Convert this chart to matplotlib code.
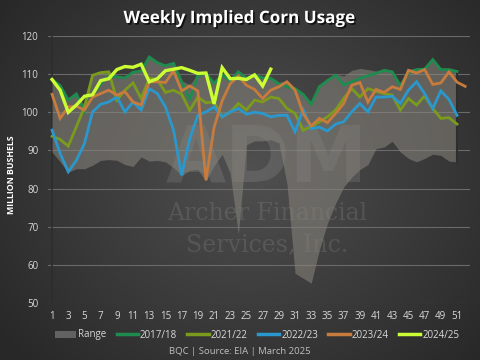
import numpy as np
import matplotlib
matplotlib.use("Agg")
import matplotlib.pyplot as plt
from matplotlib.patches import Patch
from matplotlib.lines import Line2D
import matplotlib.patheffects as pe

# ---------------- data ----------------
weeks51 = list(range(1, 52))
weeks52 = list(range(1, 53))
weeks28 = list(range(1, 29))

range_upper = [108.8, 107.2, 103.4, 105.0, 101.8, 110.0, 110.6, 110.8, 109.6, 109.3,
               110.8, 111.0, 114.7, 113.2, 112.4, 113.0, 108.3, 107.2, 110.0, 110.4,
               107.9, 110.0, 108.5, 110.8, 109.2, 110.0, 109.3, 109.2, 107.8, 108.3,
               106.5, 105.0, 102.4, 107.0, 108.6, 110.0, 109.5, 111.0, 111.5, 111.2,
               110.8, 111.3, 110.9, 107.3, 111.3, 111.5, 111.6, 114.0, 111.5, 111.5,
               111.0]
range_lower = [89.6, 87.0, 84.3, 85.2, 85.2, 86.1, 87.4, 87.6, 87.4, 86.3,
               85.8, 88.3, 87.2, 87.4, 87.0, 85.5, 83.4, 84.8, 85.0, 82.0,
               86.0, 89.0, 84.0, 68.0, 91.5, 92.5, 92.5, 92.8, 92.0, 81.3,
               57.8, 56.5, 55.2, 63.9, 70.9, 76.1, 80.4, 83.0, 85.0, 86.3,
               90.5, 90.9, 92.4, 89.6, 87.9, 87.0, 87.9, 89.0, 88.7, 87.2,
               87.0]

s2017 = [108.6, 107.0, 103.2, 104.8, 100.3, 104.5, 107.5, 109.5, 109.3, 109.0,
         110.5, 110.8, 114.5, 113.0, 112.2, 112.8, 108.0, 103.2, 109.7, 110.2,
         107.6, 109.8, 108.2, 110.6, 108.9, 109.7, 109.0, 108.9, 107.5, 106.7,
         106.2, 104.7, 102.1, 106.7, 108.3, 109.7, 107.2, 108.0, 108.9, 109.6,
         110.2, 111.0, 110.6, 107.0, 110.4, 111.2, 111.3, 113.8, 111.2, 111.2,
         110.7]
s2021 = [93.7, 92.9, 91.1, 96.2, 101.4, 109.7, 110.4, 110.6, 103.2, 105.8,
         107.7, 103.6, 108.9, 108.6, 105.2, 105.8, 104.7, 100.5, 104.0, 102.5,
         102.7, 98.8, 100.0, 102.3, 100.6, 103.2, 102.7, 104.0, 103.6, 101.0,
         99.7, 95.3, 96.2, 97.5, 98.8, 100.6, 103.6, 106.2, 104.0, 106.2,
         105.5, 104.9, 104.5, 100.6, 103.6, 101.9, 104.3, 101.0, 98.4, 98.6,
         96.9]
s2022 = [95.3, 89.2, 84.4, 87.4, 91.8, 100.1, 102.1, 102.7, 104.0, 100.1,
         102.7, 100.6, 106.2, 104.9, 101.4, 95.3, 83.5, 93.1, 99.2, 100.1,
         101.4, 98.8, 100.1, 101.0, 99.5, 100.0, 99.7, 98.8, 99.2, 99.2,
         94.9, 100.7, 95.7, 96.1, 95.1, 96.9, 97.5, 100.1, 102.3, 100.1,
         104.0, 104.0, 104.2, 102.3, 105.8, 108.0, 104.9, 101.0, 105.6, 103.4,
         99.2]
s2023 = [104.7, 98.4, 101.4, 101.6, 100.6, 104.0, 104.9, 105.8, 104.5, 105.4,
         102.7, 101.9, 108.0, 108.0, 107.8, 110.9, 105.6, 106.9, 105.6, 82.2,
         96.0, 103.0, 107.5, 109.5, 107.1, 106.0, 103.6, 105.8, 106.7, 108.0,
         105.8, 99.7, 96.4, 98.4, 97.3, 99.7, 102.3, 107.1, 107.8, 102.7,
         106.0, 105.2, 106.7, 106.0, 111.0, 110.3, 111.2, 107.3, 107.7, 110.6,
         107.9, 106.8]
s2024 = [108.6, 105.8, 100.0, 101.9, 104.2, 104.6, 108.3, 108.8, 111.2, 112.0,
         111.8, 112.6, 108.0, 108.8, 110.9, 111.3, 111.7, 111.0, 110.2, 110.3,
         102.2, 111.7, 108.8, 108.9, 108.6, 109.8, 106.9, 111.3]

x_ticks = list(range(1, 52, 2))
y_ticks = [50, 60, 70, 80, 90, 100, 110, 120]

series_names = ["2017/18", "2021/22", "2022/23", "2023/24", "2024/25"]
colors = ["#1e8c4e", "#7b9b1d", "#2a98cc", "#c77b3c", "#ccff33"]

# ---------------- figure ----------------
W, H = 480, 360
fig = plt.figure(figsize=(W / 100, H / 100), dpi=100)

# radial gradient background
bg = fig.add_axes([0, 0, 1, 1], zorder=-10)
yy, xx = np.mgrid[0:H, 0:W]
r = np.sqrt(((xx - 250) / 300.0) ** 2 + ((yy - 170) / 260.0) ** 2)
val = np.clip(80 - 38 * r, 40, 80) / 255.0
bg.imshow(np.dstack([val, val, val]), extent=[0, 1, 0, 1], aspect="auto",
          transform=bg.transAxes)
bg.set_axis_off()

ax = fig.add_axes([48 / W, 1 - 303 / H, (470 - 48) / W, (303 - 36) / H])
ax.patch.set_alpha(0)
ax.set_xlim(0.5, 52.6)
ax.set_ylim(50, 120)

for s in ax.spines.values():
    s.set_visible(False)

for yv in y_ticks:
    ax.axhline(yv, color="#6a6a6a", lw=0.8, zorder=1)
ax.axvline(1, color="#2d2d2d", lw=1.2, zorder=2)

# watermark
ax.text(27.5, 87.5, "ADM", fontsize=56, fontweight="bold", color="white",
        alpha=0.10, ha="center", va="center", family="DejaVu Sans", zorder=1.5)
ax.text(27.5, 73.5, "Archer Financial", fontsize=17, color="white", alpha=0.10,
        ha="center", va="center", family="DejaVu Serif", zorder=1.5)
ax.text(27.5, 65, "Services, Inc.", fontsize=17, color="white", alpha=0.10,
        ha="center", va="center", family="DejaVu Serif", zorder=1.5)

# range
ax.fill_between(weeks51, range_lower, range_upper, color="#8a867e",
                alpha=0.55, lw=0, zorder=2)
ax.plot([51, 51], [range_lower[-1], range_upper[-1]], color="#2e2e2e", lw=1.5, zorder=2)

data = [(weeks51, s2017), (weeks51, s2021), (weeks51, s2022), (weeks52, s2023), (weeks28, s2024)]
lws = [2.0, 2.0, 2.0, 2.0, 2.4]
for (xs, ys), c, lw in zip(data, colors, lws):
    ax.plot(xs, ys, color=c, lw=lw, solid_joinstyle="miter", zorder=3)

ax.set_xticks(x_ticks)
ax.set_yticks(y_ticks)
ax.tick_params(length=0, colors="#d9d9d9", labelsize=7, pad=6)
ax.tick_params(axis="y", pad=7)
for lab in ax.get_xticklabels() + ax.get_yticklabels():
    lab.set_family("Open Sans")

fig.text(12 / W, 1 - 175 / H, "MILLION BUSHELS", rotation=90, ha="center",
         va="center", color="white", fontsize=6.3, fontweight="bold", family="Open Sans")

fig.text(0.5, 1 - 18 / H, "Weekly Implied Corn Usage", ha="center", va="center",
         color="white", fontsize=12.3, fontweight="bold", family="Open Sans",
         path_effects=[pe.withSimplePatchShadow(offset=(1.2, -1.2), shadow_rgbFace="black", alpha=0.7)])

handles = [Patch(facecolor="#626262", edgecolor="none")]
for c in colors:
    handles.append(Line2D([0], [0], color=c, lw=2.5))
leg = fig.legend(handles, ["Range"] + series_names, loc="center",
                 bbox_to_anchor=(257 / W, 1 - 335 / H), ncol=6, frameon=False,
                 handlelength=2.2, handletextpad=0.2, columnspacing=1.05,
                 prop={"family": "Open Sans", "size": 7})
for t in leg.get_texts():
    t.set_color("#d9d9d9")

fig.text(0.5, 1 - 352 / H, "BQC | Source: EIA | March 2025", ha="center", va="center",
         color="#bfbfbf", fontsize=6.8, family="Open Sans")

fig.savefig("out.png", dpi=100)
